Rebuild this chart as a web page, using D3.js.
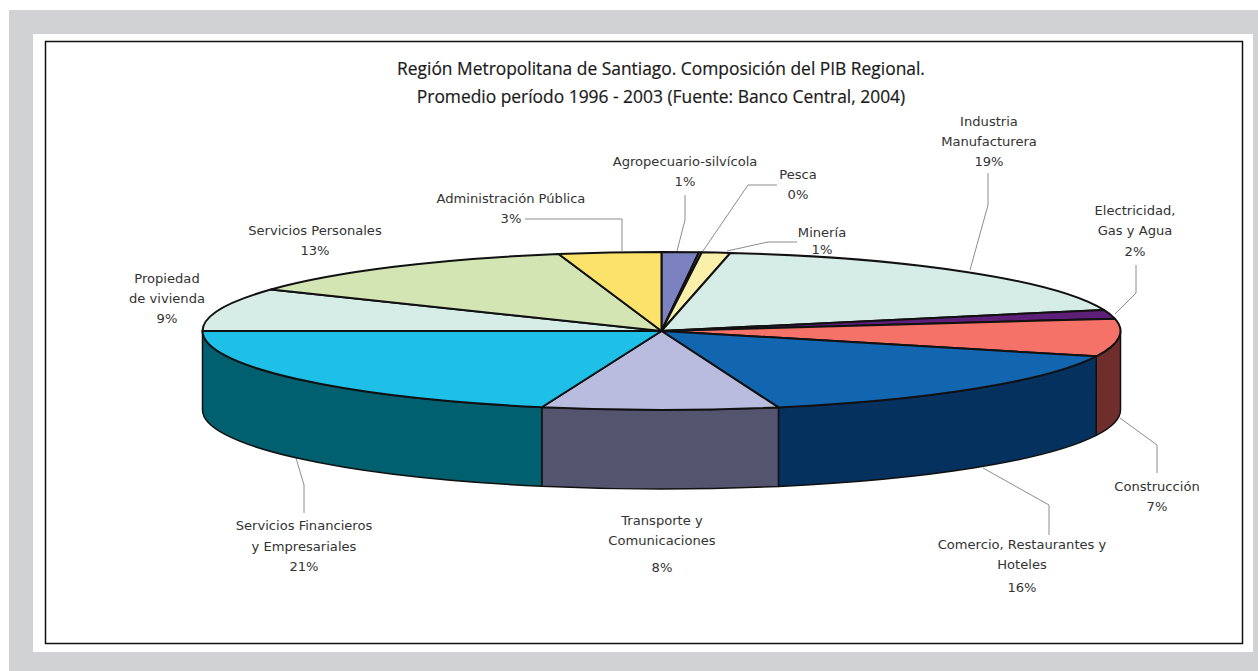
<!DOCTYPE html>
<html>
<head>
<meta charset="utf-8">
<script src="https://cdn.jsdelivr.net/npm/d3@7/dist/d3.min.js"></script>
<style>
  html, body { margin: 0; padding: 0; background: #fff; overflow: hidden; }
  svg { display: block; }
  .label { font-family: "DejaVu Sans", sans-serif; font-size: 13.1px; fill: #333; text-anchor: middle; }
  .title { font-family: "Open Sans", sans-serif; font-size: 17.4px; fill: #1a1a1a; text-anchor: middle; stroke: #1a1a1a; stroke-width: 0.2; }
  .leader { fill: none; stroke: #8c8c8c; stroke-width: 1; }
  .slice { stroke: #111; stroke-width: 2; vector-effect: non-scaling-stroke; stroke-linejoin: round; }
  .wall { stroke: #111; stroke-width: 1.5; stroke-linejoin: round; }
</style>
</head>
<body>
<div id="vis"></div>
<script>
var sectors = ['Agropecuario-silvícola', 'Pesca', 'Minería', 'Industria Manufacturera', 'Electricidad, Gas y Agua',
  'Construcción', 'Comercio, Restaurantes y Hoteles', 'Transporte y Comunicaciones',
  'Servicios Financieros y Empresariales', 'Propiedad de vivienda', 'Servicios Personales', 'Administración Pública'];
// share of each slice as drawn in the picture
var shares = [1.3, 0.1, 1.0, 18.3, 1.8, 7.7, 15.7, 8.3, 20.8, 8.8, 12.6, 3.6];
// printed labels are rounded differently from the drawn slices
var printed = ['1%', '0%', '1%', '19%', '2%', '7%', '16%', '8%', '21%', '9%', '13%', '3%'];
var topColors = ['#7c82c0', '#7c82c0', '#faf0aa', '#d6ece6', '#5e1f78', '#f47267', '#1266b0', '#b9bbdf', '#1ec0e8', '#d6ece6', '#d2e5b3', '#fbe36b'];
var wallColors = [null, null, null, null, null, '#6f2d2c', '#05315e', '#55546f', '#00606f', null, null, null];

var titleLines = ['Región Metropolitana de Santiago. Composición del PIB Regional.',
  'Promedio período 1996 - 2003 (Fuente: Banco Central, 2004)'];

// label layout: one entry per sector, text lines with baselines, and leader line if any
var labelLayout = [
  { x: 685, lines: ['Agropecuario-silvícola'], ys: [166, 186], leader: [[685, 195], [685, 220], [677, 251]] },
  { x: 798, lines: ['Pesca'], ys: [179, 199], leader: [[777, 185], [748, 185], [703, 251]] },
  { x: 822, lines: ['Minería'], ys: [237, 254], leader: [[797, 242], [768, 242], [727, 251]] },
  { x: 989, lines: ['Industria', 'Manufacturera'], ys: [126, 146, 166], leader: [[988, 173], [988, 205], [970, 270]] },
  { x: 1135, lines: ['Electricidad,', 'Gas y Agua'], ys: [215, 235, 256], leader: [[1136, 265], [1136, 293], [1115, 314]] },
  { x: 1157, lines: ['Construcción'], ys: [491, 511], leader: [[1157, 473], [1157, 445], [1120, 418]] },
  { x: 1022, lines: ['Comercio, Restaurantes y', 'Hoteles'], ys: [549, 569, 592], leader: [[1049, 535], [1049, 505], [983, 468]] },
  { x: 662, lines: ['Transporte y', 'Comunicaciones'], ys: [525, 545, 572], leader: null },
  { x: 304, lines: ['Servicios Financieros', 'y Empresariales'], ys: [530, 551, 571], leader: [[304, 513], [304, 485], [296, 458]] },
  { x: 167, lines: ['Propiedad', 'de vivienda'], ys: [283, 303, 323], leader: null },
  { x: 315, lines: ['Servicios Personales'], ys: [235, 255], leader: null },
  { x: 511, lines: ['Administración Pública'], ys: [203, 223], leader: [[525, 219], [622, 219], [622, 251]] }
];

var width = 1258;
var height = 671;
var cx = 661.5, cy = 331, rx = 459, ry = 79, depth = 79;

var svg = d3.select('#vis').append('svg')
  .attr('width', width)
  .attr('height', height);

// page frame
svg.append('rect').attr('x', 9).attr('y', 10).attr('width', width - 9).attr('height', height - 10).attr('fill', '#d1d2d4');
svg.append('rect').attr('x', 33).attr('y', 34).attr('width', 1220).attr('height', 618).attr('fill', '#fff');
svg.append('rect').attr('x', 45.5).attr('y', 41.5).attr('width', 1197).attr('height', 602)
  .attr('fill', 'none').attr('stroke', '#111').attr('stroke-width', 1.5);

var pie = d3.pie().sort(null).value(function (d) { return d; });
var arcs = pie(shares);
var arc = d3.arc().innerRadius(0).outerRadius(rx);

function px(a) { return cx + rx * Math.sin(a); }
function py(a) { return cy - ry * Math.cos(a); }

// the side wall only shows on the front half of the disc
function wallPath(d) {
  var a0 = Math.max(d.startAngle, Math.PI / 2);
  var a1 = Math.min(d.endAngle, 3 * Math.PI / 2);
  return 'M' + px(a0) + ',' + py(a0) +
    'A' + rx + ',' + ry + ' 0 0 1 ' + px(a1) + ',' + py(a1) +
    'L' + px(a1) + ',' + (py(a1) + depth) +
    'A' + rx + ',' + ry + ' 0 0 0 ' + px(a0) + ',' + (py(a0) + depth) + 'Z';
}

svg.append('g').selectAll('.leader')
  .data(labelLayout.filter(function (d) { return d.leader; }))
  .enter().append('path')
  .attr('class', 'leader')
  .attr('d', function (d) { return d3.line()(d.leader); });

svg.append('g').selectAll('.wall')
  .data(arcs.filter(function (d, i) { return wallColors[i]; }))
  .enter().append('path')
  .attr('class', 'wall')
  .attr('fill', function (d) { return wallColors[d.index]; })
  .attr('d', wallPath);

svg.append('g')
  .attr('transform', 'translate(' + cx + ',' + cy + ') scale(1,' + (ry / rx) + ')')
  .selectAll('.slice')
  .data(arcs)
  .enter().append('path')
  .attr('class', 'slice')
  .attr('fill', function (d) { return topColors[d.index]; })
  .attr('d', arc);

titleLines.forEach(function (t, i) {
  svg.append('text').attr('class', 'title').attr('x', 661).attr('y', 75 + i * 28).text(t);
});

labelLayout.forEach(function (d, i) {
  d.lines.concat([printed[i]]).forEach(function (t, j) {
    svg.append('text').attr('class', 'label').attr('x', d.x).attr('y', d.ys[j]).text(t);
  });
});
</script>
</body>
</html>
